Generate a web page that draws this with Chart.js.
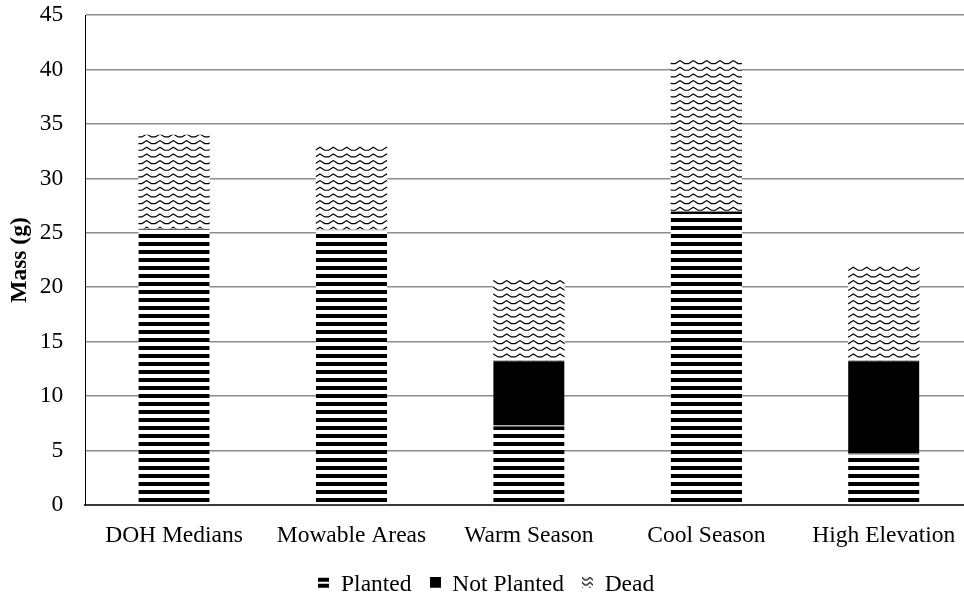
<!DOCTYPE html>
<html>
<head>
<meta charset="utf-8">
<script src="https://cdn.jsdelivr.net/npm/chart.js@4.4.0/dist/chart.umd.min.js"></script>
<style>
    html, body { margin: 0; padding: 0; background: #fff; overflow: hidden; }
    #wrap { width: 964px; height: 599px; overflow: hidden; }
</style>
</head>
<body>
<div id="wrap"><canvas id="massChart" width="976" height="607"></canvas></div>
<script>
// Data
const categories = ['DOH Medians', 'Mowable Areas', 'Warm Season', 'Cool Season', 'High Elevation'];
const planted = [25.4, 25.3, 7.3, 27.0, 4.7];
const notPlanted = [0, 0, 6.0, 0, 8.6];
const dead = [8.6, 7.7, 7.4, 14.0, 8.7];
const yTicks = [0, 5, 10, 15, 20, 25, 30, 35, 40, 45];

const FONT = "'Liberation Serif', 'Times New Roman', serif";
const FONT_SIZE = 23.5;
const CANVAS_H = 607;
const AXIS_BOTTOM = 505;

// Fill patterns
function makeTile(w, h, draw, bg) {
    const c = document.createElement('canvas');
    c.width = w;
    c.height = h;
    const g = c.getContext('2d');
    if (bg !== false) {
        g.fillStyle = '#fff';
        g.fillRect(0, 0, w, h);
    }
    draw(g);
    return c;
}

function drawWaves(g, w, h, period, rowH, amp) {
    g.strokeStyle = '#000';
    g.lineWidth = 1.2;
    for (let y0 = -rowH; y0 < h + rowH; y0 += rowH) {
        g.beginPath();
        for (let x = -period; x <= w + period; x += period) {
            if (x === -period) g.moveTo(x, y0 + 0.6);
            g.lineTo(x + period * 0.35, y0 + 0.6 + amp);
            g.lineTo(x + period * 0.65, y0 + 0.6 + amp);
            g.lineTo(x + period, y0 + 0.6);
        }
        g.stroke();
    }
}

const stripeTile = makeTile(8, 8, g => {
    g.fillStyle = '#000';
    g.fillRect(0, 2, 8, 4);
});
const waveTile = makeTile(40, 20, g => drawWaves(g, 40, 20, 40 / 3, 20 / 3, 3));

const ctx = document.getElementById('massChart').getContext('2d');
const stripePattern = ctx.createPattern(stripeTile, 'repeat');
const wavePattern = ctx.createPattern(waveTile, 'repeat');

// Legend icons (drawn in the upper part of a taller canvas to sit level with the text)
const plantedIcon = makeTile(11, 17, g => {
    g.fillStyle = '#000';
    g.fillRect(0, 1, 11, 4);
    g.fillRect(0, 7, 11, 4);
}, false);
const notPlantedIcon = makeTile(11, 17, g => {
    g.fillStyle = '#000';
    g.fillRect(0, 0, 11, 11);
}, false);
const deadIcon = makeTile(11, 17, g => {
    g.beginPath();
    g.rect(0, 0, 11, 11);
    g.clip();
    drawWaves(g, 11, 11, 8, 5, 2.5);
}, false);
const icons = [plantedIcon, notPlantedIcon, deadIcon];

const massChart = new Chart(ctx, {
    type: 'bar',
    data: {
        labels: categories,
        datasets: [{
            label: 'Planted',
            data: planted,
            backgroundColor: stripePattern,
            borderColor: '#8a8a8a',
            borderWidth: { top: 1, left: 0, right: 0, bottom: 0 },
            borderSkipped: false
        }, {
            label: 'Not Planted',
            data: notPlanted,
            backgroundColor: '#000',
            borderColor: '#8a8a8a',
            borderWidth: { top: 1, left: 0, right: 0, bottom: 0 },
            borderSkipped: false
        }, {
            label: 'Dead',
            data: dead,
            backgroundColor: wavePattern,
            borderWidth: 0
        }]
    },
    options: {
        responsive: false,
        animation: false,
        events: [],
        barPercentage: 0.402,
        categoryPercentage: 1,
        layout: {
            padding: { top: 15, right: 3.5, bottom: 0, left: 0 }
        },
        plugins: {
            tooltip: { enabled: false },
            legend: {
                position: 'bottom',
                labels: {
                    font: { family: FONT, size: FONT_SIZE },
                    color: '#000',
                    usePointStyle: true,
                    boxWidth: 11,
                    boxHeight: 11,
                    padding: 18,
                    generateLabels: chart => chart.data.datasets.map((ds, i) => ({
                        text: ds.label,
                        pointStyle: icons[i],
                        datasetIndex: i,
                        fillStyle: '#000',
                        strokeStyle: 'transparent',
                        lineWidth: 0,
                        hidden: false,
                        fontColor: '#000'
                    }))
                }
            }
        },
        scales: {
            x: {
                stacked: true,
                grid: { display: false, drawTicks: false },
                border: { display: true, color: '#3a3a3a', width: 2 },
                ticks: {
                    font: { family: FONT, size: FONT_SIZE },
                    color: '#000',
                    padding: 17,
                    maxRotation: 0,
                    autoSkip: false
                },
                afterFit: scale => {
                    const legendH = (scale.chart.legend && scale.chart.legend.height) || 54;
                    scale.height = CANVAS_H - AXIS_BOTTOM - legendH;
                }
            },
            y: {
                stacked: true,
                min: 0,
                max: 45,
                afterBuildTicks: scale => {
                    scale.ticks = yTicks.map(v => ({ value: v }));
                },
                grid: {
                    drawTicks: false,
                    lineWidth: 1.5,
                    color: c => c.tick && c.tick.value === 0 ? 'rgba(0,0,0,0)' : '#8c8c8c'
                },
                border: { display: true, color: '#000', width: 1 },
                ticks: {
                    font: { family: FONT, size: FONT_SIZE },
                    color: '#000',
                    padding: 22
                },
                title: {
                    display: true,
                    text: 'Mass (g)',
                    font: { family: FONT, size: FONT_SIZE, weight: 'bold' },
                    color: '#000',
                    padding: { top: 6, bottom: 0 }
                },
                afterFit: scale => {
                    scale.width = 85.3;
                    // keep the tick padding from pushing the plot area down
                    scale.paddingTop = 12;
                    scale.paddingBottom = 12;
                }
            }
        }
    }
});
</script>
</body>
</html>
